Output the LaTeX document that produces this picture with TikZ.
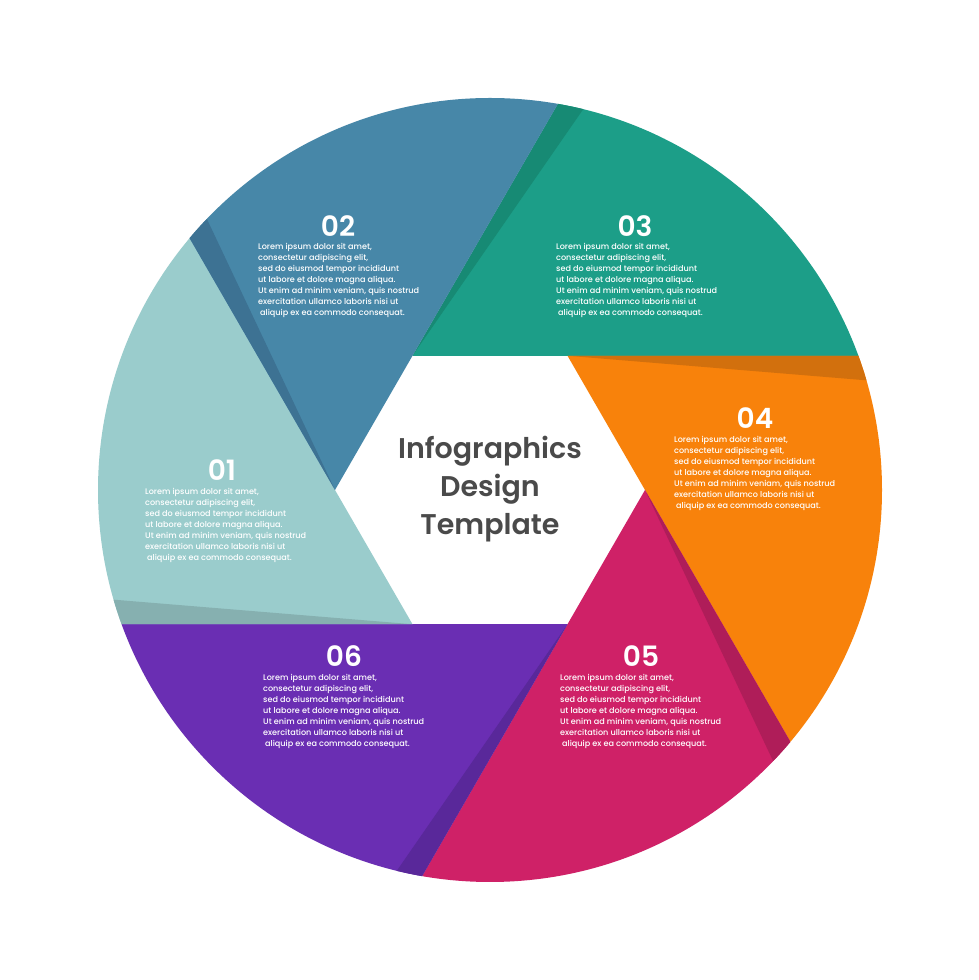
\documentclass[tikz,border=0pt]{standalone}
\usepackage{fontspec}
\setmainfont{Poppins}
\newfontfamily\semib{Poppins SemiBold}
\newfontfamily\medf{Poppins Medium}
\usetikzlibrary{calc}
\definecolor{cA}{HTML}{9ACCCC}\definecolor{cAd}{HTML}{86B0B0}
\definecolor{cB}{HTML}{4787A8}\definecolor{cBd}{HTML}{3D7293}
\definecolor{cC}{HTML}{1C9E88}\definecolor{cCd}{HTML}{178A74}
\definecolor{cD}{HTML}{F8820B}\definecolor{cDd}{HTML}{D2700D}
\definecolor{cE}{HTML}{CF2167}\definecolor{cEd}{HTML}{AF1D59}
\definecolor{cF}{HTML}{6A2EB3}\definecolor{cFd}{HTML}{59289A}
\definecolor{titlegrey}{HTML}{4A4A4A}
\tikzset{
  num/.style={font=\semib\fontsize{28}{32}\selectfont, text=white, inner sep=0pt},
  body/.style={font=\medf\fontsize{8.1}{10.9}\selectfont, text=white, align=left, inner sep=0pt, anchor=north west},
  titletext/.style={font=\semib\fontsize{28.5}{38}\selectfont, text=titlegrey, align=center, inner sep=0pt}
}
\newcommand{\loremtext}{Lorem ipsum dolor sit amet,\\consectetur adipiscing elit,\\sed do eiusmod tempor incididunt\\ut labore et dolore magna aliqua.\\Ut enim ad minim veniam, quis nostrud\\exercitation ullamco laboris nisi ut\\\hspace*{2pt}aliquip ex ea commodo consequat.}
\begin{document}
\begin{tikzpicture}[x=1pt,y=1pt]
\useasboundingbox (0,0) rectangle (979,980);
\fill[white] (0,0) rectangle (979,980);
\coordinate (O) at (490,490);
\begin{scope}
  \clip (O) circle (392);
  \foreach \v/\a/\col in {120/60/cC, 60/0/cD, 0/-60/cE, -60/-120/cF, -120/-180/cA, 180/120/cB}{
    \fill[\col] ($(O)+(\v:155)$) -- +(\a:900) -- +(\a-30:900) -- +(\a-60:900) -- cycle;
    \fill[\col d] ($(O)+(\v:155)$) -- +(\a:900) -- +(\a-4.7:900) -- cycle;
  }
\end{scope}
\node[titletext] (title) at (490,490.5) {Infographics\\Design\\Template};
\node[num] (n01) at (222,510) {01};
\node[body] (t01) at (145,491.5) {\loremtext};
\node[num] (n02) at (338,754) {02};
\node[body] (t02) at (258,736.5) {\loremtext};
\node[num] (n03) at (635,754) {03};
\node[body] (t03) at (556,736.5) {\loremtext};
\node[num] (n04) at (755,562) {04};
\node[body] (t04) at (674,543.5) {\loremtext};
\node[num] (n05) at (641,324) {05};
\node[body] (t05) at (560,305.5) {\loremtext};
\node[num] (n06) at (344,324) {06};
\node[body] (t06) at (263,305.5) {\loremtext};
\end{tikzpicture}
\end{document}
